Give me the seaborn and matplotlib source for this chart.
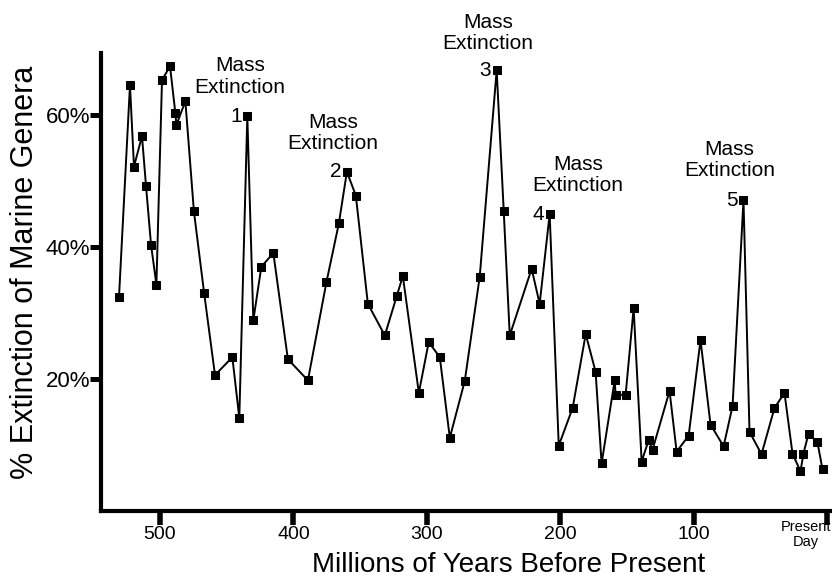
import pandas as pd
import matplotlib.pyplot as plt
import seaborn as sns

# Extinction record (millions of years ago, % of marine genera)
years = [530.7, 522.5, 519.5, 513.5, 510.5, 506.7, 502.7, 498.5, 492.5, 488.5,
         487.7, 481.0, 474.6, 467.0, 458.8, 445.8, 440.6, 434.6, 430.1, 424.1,
         415.1, 404.2, 389.2, 375.3, 366.0, 360.0, 353.3, 344.3, 331.6, 322.6,
         318.1, 306.1, 298.7, 290.4, 282.9, 271.7, 260.5, 247.8, 242.5, 238.0,
         221.6, 215.6, 208.1, 201.3, 190.9, 181.1, 173.7, 169.2, 159.4, 158.7,
         151.2, 145.2, 139.2, 134.0, 131.0, 118.3, 113.0, 104.0, 95.1, 87.6,
         77.8, 71.1, 62.9, 58.4, 49.4, 39.7, 32.2, 26.2, 20.2, 18.0,
         14.2, 7.5, 3.7]
extinction = [32.5, 64.5, 52.2, 56.8, 49.3, 40.3, 34.3, 65.3, 67.4, 60.3,
              58.5, 62.1, 45.4, 33.1, 20.6, 23.3, 14.1, 59.8, 28.9, 37.0,
              39.1, 23.0, 19.8, 34.7, 43.6, 51.4, 47.8, 31.4, 26.6, 32.6,
              35.6, 17.9, 25.6, 23.3, 11.1, 19.7, 35.5, 66.8, 45.4, 26.6,
              36.7, 31.4, 45.0, 9.9, 15.6, 26.8, 21.1, 7.2, 19.8, 17.6,
              17.6, 30.7, 7.5, 10.7, 9.3, 18.2, 9.0, 11.4, 25.9, 13.1,
              9.8, 15.9, 47.1, 12.0, 8.6, 15.6, 17.9, 8.7, 6.0, 8.7,
              11.7, 10.4, 6.3]

# the five mass extinctions (index into the series)
event_labels = ["1", "2", "3", "4", "5"]
event_index = [17, 25, 37, 42, 62]

x_ticks = [500, 400, 300, 200, 100]
y_ticks = [20, 40, 60]
y_tick_labels = ["20%", "40%", "60%"]

df = pd.DataFrame({"Years": years, "Extinction": extinction})

sns.set_style("ticks", {"text.color": "black", "axes.labelcolor": "black",
                        "xtick.color": "black", "ytick.color": "black",
                        "axes.edgecolor": "black"})
plt.rcParams["font.family"] = ["Liberation Sans", "DejaVu Sans"]

fig = plt.figure(figsize=(8.32, 5.83), dpi=100)
ax = fig.add_axes([0.1214, 0.1235, 0.8786, 0.7856])

sns.lineplot(data=df, x="Years", y="Extinction", ax=ax, color="black",
             linewidth=1.4, marker="s", markersize=6, markeredgecolor="black",
             sort=False)

ax.set_xlim(544.2, -3.4)
ax.set_ylim(0, 69.4)

ax.set_xticks(x_ticks + [0])
ax.set_xticklabels([str(t) for t in x_ticks] + [""], fontsize=14)
ax.set_yticks(y_ticks)
ax.set_yticklabels(y_tick_labels, fontsize=16)
ax.tick_params(axis="x", length=10, width=4, direction="out", pad=1)
ax.tick_params(axis="y", length=8, width=3.6, direction="out", pad=0)

for side in ["top", "right"]:
    ax.spines[side].set_visible(False)
for side in ["left", "bottom"]:
    ax.spines[side].set_linewidth(3)

ax.set_xlabel("Millions of Years Before Present", fontsize=20)
ax.set_ylabel("% Extinction of Marine Genera", fontsize=22)
ax.xaxis.set_label_coords(0.557, -0.09)
ax.yaxis.set_label_coords(-0.083, 0.522)

ax.text(-3.0, -1.3, "Present\nDay", fontsize=10.5, ha="right", va="top",
        multialignment="center", linespacing=1.1)

# "Mass Extinction" captions
caption_pos = [(440, 62.8), (370.5, 54.2), (254.5, 69.4), (187, 47.9), (73.4, 50.1)]
for lab, i, (cx, cy) in zip(event_labels, event_index, caption_pos):
    ax.text(cx, cy, "Mass\nExtinction", fontsize=15, ha="center", va="bottom",
            linespacing=1.15)
    ax.annotate(lab, (years[i], extinction[i]), xytext=(-4, 0),
                textcoords="offset points", ha="right", va="center",
                fontsize=15)

fig.savefig("out.png", dpi=100)
